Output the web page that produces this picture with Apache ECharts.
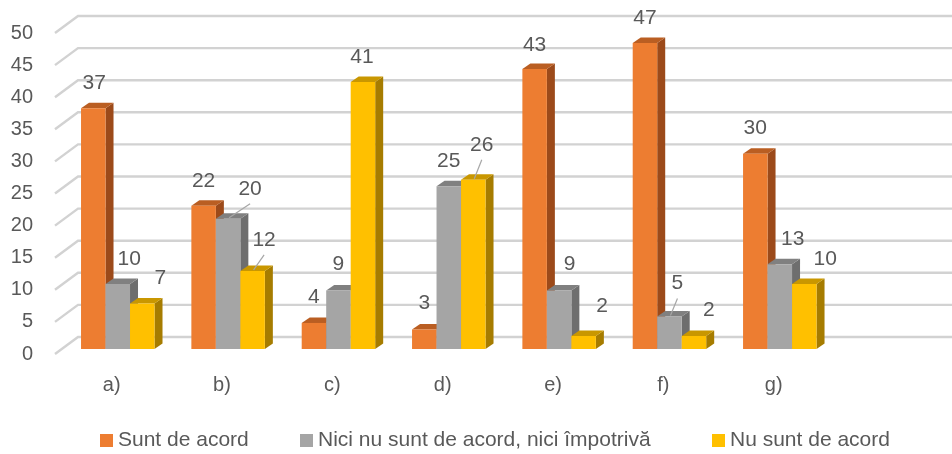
<!DOCTYPE html>
<html><head><meta charset="utf-8">
<script src="https://cdn.jsdelivr.net/npm/echarts@6/dist/echarts.min.js"></script>
<style>html,body{margin:0;padding:0;background:#fff}#c{width:952px;height:454px}</style>
</head><body><div id="c"></div>
<script>
// ---- data ----
const categories = ['a)', 'b)', 'c)', 'd)', 'e)', 'f)', 'g)', ''];
const seriesNames = ['Sunt de acord', 'Nici nu sunt de acord, nici împotrivă', 'Nu sunt de acord'];
const suntDeAcord = [37, 22, 4, 3, 43, 47, 30];
const niciNiciImpotriva = [10, 20, 9, 25, 9, 5, 13];
const nuSuntDeAcord = [7, 12, 41, 26, 2, 2, 10];
const yTicks = [0, 5, 10, 15, 20, 25, 30, 35, 40, 45, 50];

// ---- style / layout ----
const FONT = '"Liberation Sans", Arial, sans-serif';
const TEXT = '#595959';
const colors = [
  {front: '#ED7D31', side: '#9C4A1A', top: '#BA5E22'},
  {front: '#A5A5A5', side: '#6E6E6E', top: '#808080'},
  {front: '#FFC000', side: '#A67C00', top: '#C99700'}
];
const DEPTH_X = 8, DEPTH_Y = -5.5;
// label offsets [dx, dy, leader] relative to the bar's front-top center, per series per category
const labelLayout = [
  [[1,-25],[0,-25],[0,-26],[0,-26],[0,-24],[0,-25],[0,-25]],
  [[11.5,-25],[22,-30,1],[0,-26],[0,-25],[10.5,-26],[8,-33,1],[13,-25]],
  [[18,-25],[11.5,-31,1],[-1,-25],[8.5,-35,1],[18.5,-30],[15,-26],[21,-25]]
];
const allSeries = [suntDeAcord, niciNiciImpotriva, nuSuntDeAcord];

function barRender(k) {
  return function (params, api) {
    const cat = api.value(0), val = api.value(1);
    const band = api.size([1, 0])[0];
    const bw = band * 0.222;
    const base = api.coord([cat, 0]);
    const topY = api.coord([cat, val])[1];
    const x = base[0] + (k - 1.5) * bw;
    const yb = base[1];
    const c = colors[k];
    return {
      type: 'group',
      children: [
        {type: 'polygon', shape: {points: [[x + bw, topY], [x + bw + DEPTH_X, topY + DEPTH_Y], [x + bw + DEPTH_X, yb + DEPTH_Y], [x + bw, yb]]}, style: {fill: c.side}},
        {type: 'polygon', shape: {points: [[x, topY], [x + bw, topY], [x + bw + DEPTH_X, topY + DEPTH_Y], [x + DEPTH_X, topY + DEPTH_Y]]}, style: {fill: c.top}},
        {type: 'rect', shape: {x: x, y: topY, width: bw, height: yb - topY}, style: {fill: c.front}}
      ]
    };
  };
}

function labelRender(params, api) {
  const k = api.value(2), cat = api.value(0), val = api.value(1);
  const band = api.size([1, 0])[0];
  const bw = band * 0.222;
  const base = api.coord([cat, 0]);
  const topY = api.coord([cat, val])[1];
  const cx = base[0] + (k - 1) * bw;
  const L = labelLayout[k][cat];
  const lx = cx + L[0], ly = topY + L[1];
  const children = [{
    type: 'text', x: lx, y: ly,
    style: {text: String(val), fill: TEXT, font: '21px ' + FONT, align: 'center', verticalAlign: 'middle', textAlign: 'center', textVerticalAlign: 'middle'}
  }];
  if (L[2]) {
    children.push({type: 'line', shape: {x1: cx + 1, y1: topY - 1, x2: lx, y2: ly + 15}, style: {stroke: '#A6A6A6', lineWidth: 1.2}});
  }
  return {type: 'group', children: children};
}

const labelData = [];
allSeries.forEach((arr, k) => arr.forEach((v, i) => labelData.push([i, v, k])));

const chart = echarts.init(document.getElementById('c'), null, {renderer: 'canvas'});
const legendBase = {
  top: 430, padding: 0, itemWidth: 13, itemHeight: 13, icon: 'rect', itemGap: 0,
  selectedMode: false,
  textStyle: {fontSize: 21, color: TEXT, fontFamily: FONT}
};
chart.setOption({
  animation: false,
  backgroundColor: '#fff',
  grid: [
    {left: 62.6, top: 23.5, width: 882.7, height: 325.5},
    {left: 55, top: 33, width: 882.7, height: 321}
  ],
  xAxis: [
    {type: 'category', gridIndex: 0, data: categories, show: false},
    {type: 'category', gridIndex: 1, data: categories, axisLine: {show: false}, axisTick: {show: false},
     axisLabel: {fontSize: 20, color: TEXT, fontFamily: FONT, margin: 21, padding: [0, 0, 0, 3]}}
  ],
  yAxis: [
    {type: 'value', gridIndex: 0, min: 0, max: 50, interval: 5, show: false},
    {type: 'value', gridIndex: 1, min: 0, max: 50, interval: 5, splitLine: {show: false},
     axisLine: {show: false}, axisTick: {show: false},
     axisLabel: {fontSize: 20, color: TEXT, fontFamily: FONT, margin: 22}}
  ],
  legend: [
    Object.assign({left: 100, data: [seriesNames[0]]}, legendBase),
    Object.assign({left: 300, data: [seriesNames[1]]}, legendBase),
    Object.assign({left: 712, data: [seriesNames[2]]}, legendBase)
  ],
  series: [
    {
      type: 'custom', name: 'grid', xAxisIndex: 1, yAxisIndex: 1, silent: true, z: 1,
      data: yTicks.map(v => [0, v]),
      renderItem: function (params, api) {
        const y = api.coord([0, api.value(1)])[1];
        const x0 = params.coordSys.x;
        return {type: 'polyline', shape: {points: [[x0, y], [x0 + 23, y - 17], [952, y - 17]]},
          style: {stroke: '#D2D2D2', lineWidth: 2.4, fill: null}};
      }
    }
  ].concat(allSeries.map((arr, k) => ({
    type: 'custom', name: seriesNames[k], xAxisIndex: 0, yAxisIndex: 0, z: 3,
    itemStyle: {color: colors[k].front},
    data: arr.map((v, i) => [i, v]),
    renderItem: barRender(k)
  }))).concat([{
    type: 'custom', name: 'labels', xAxisIndex: 0, yAxisIndex: 0, z: 5, silent: true,
    data: labelData, renderItem: labelRender
  }])
});
</script></body></html>
